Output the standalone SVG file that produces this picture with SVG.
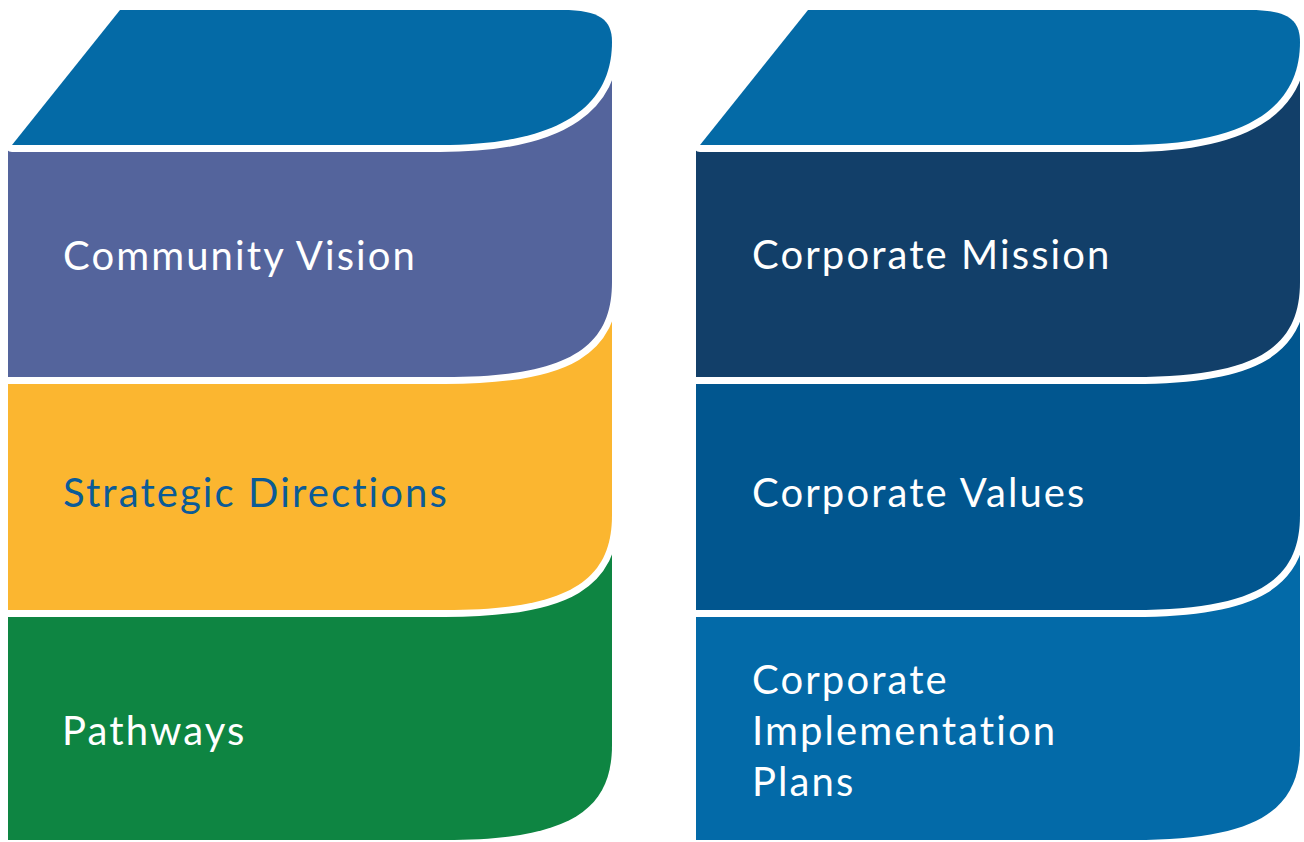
<svg xmlns="http://www.w3.org/2000/svg" width="1304" height="842" viewBox="0 0 1304 842">
<style>
.blk{stroke:#ffffff;stroke-width:14;paint-order:stroke fill;stroke-linejoin:round}
.lbl{font-family:Lato,"Open Sans","Liberation Sans",sans-serif;font-size:40px;fill:#ffffff;letter-spacing:2.1px}
</style>
<rect width="1304" height="842" fill="#ffffff"/>
<g id="left-stack">
<g id="pathways">
<path class="blk" fill="#0e8542" d="M8,490 L612,490 L612,745 C612,810 570,840 445,840 L8,840 Z"/>
<text class="lbl" x="62" y="745">Pathways</text>
</g>
<g id="strategic-directions">
<path class="blk" fill="#fbb630" d="M8,257 L612,257 L612,515 C612,580 570,610 445,610 L8,610 Z"/>
<text class="lbl" x="63" y="507" style="fill:#0b5b97">Strategic Directions</text>
</g>
<g id="community-vision">
<path class="blk" fill="#54649c" d="M8,145 L440,145 C570,145 612,100 612,45 L612,282 C612,347 570,377 445,377 L8,377 Z"/>
<text class="lbl" x="63" y="270">Community Vision</text>
</g>
<g id="left-top">
<path class="blk" fill="#046aa6" d="M120,10 L562,10 C600,10 612,20 612,42 C612,100 570,145 440,145 L12,145 Z"/>
</g>
</g>
<g id="right-stack">
<g id="implementation-plans">
<path class="blk" fill="#036aa8" d="M696,490 L1300,490 L1300,745 C1300,810 1258,840 1133,840 L696,840 Z"/>
<text class="lbl" x="752"><tspan x="752" y="694">Corporate</tspan><tspan x="752" y="745">Implementation</tspan><tspan x="752" y="796">Plans</tspan></text>
</g>
<g id="corporate-values">
<path class="blk" fill="#01568f" d="M696,257 L1300,257 L1300,515 C1300,580 1258,610 1133,610 L696,610 Z"/>
<text class="lbl" x="752" y="507">Corporate Values</text>
</g>
<g id="corporate-mission">
<path class="blk" fill="#123f69" d="M696,145 L1128,145 C1258,145 1300,100 1300,45 L1300,282 C1300,347 1258,377 1133,377 L696,377 Z"/>
<text class="lbl" x="752" y="269">Corporate Mission</text>
</g>
<g id="right-top">
<path class="blk" fill="#046aa6" d="M808,10 L1250,10 C1288,10 1300,20 1300,42 C1300,100 1258,145 1128,145 L700,145 Z"/>
</g>
</g>
<g id="connectors"/>
</svg>
